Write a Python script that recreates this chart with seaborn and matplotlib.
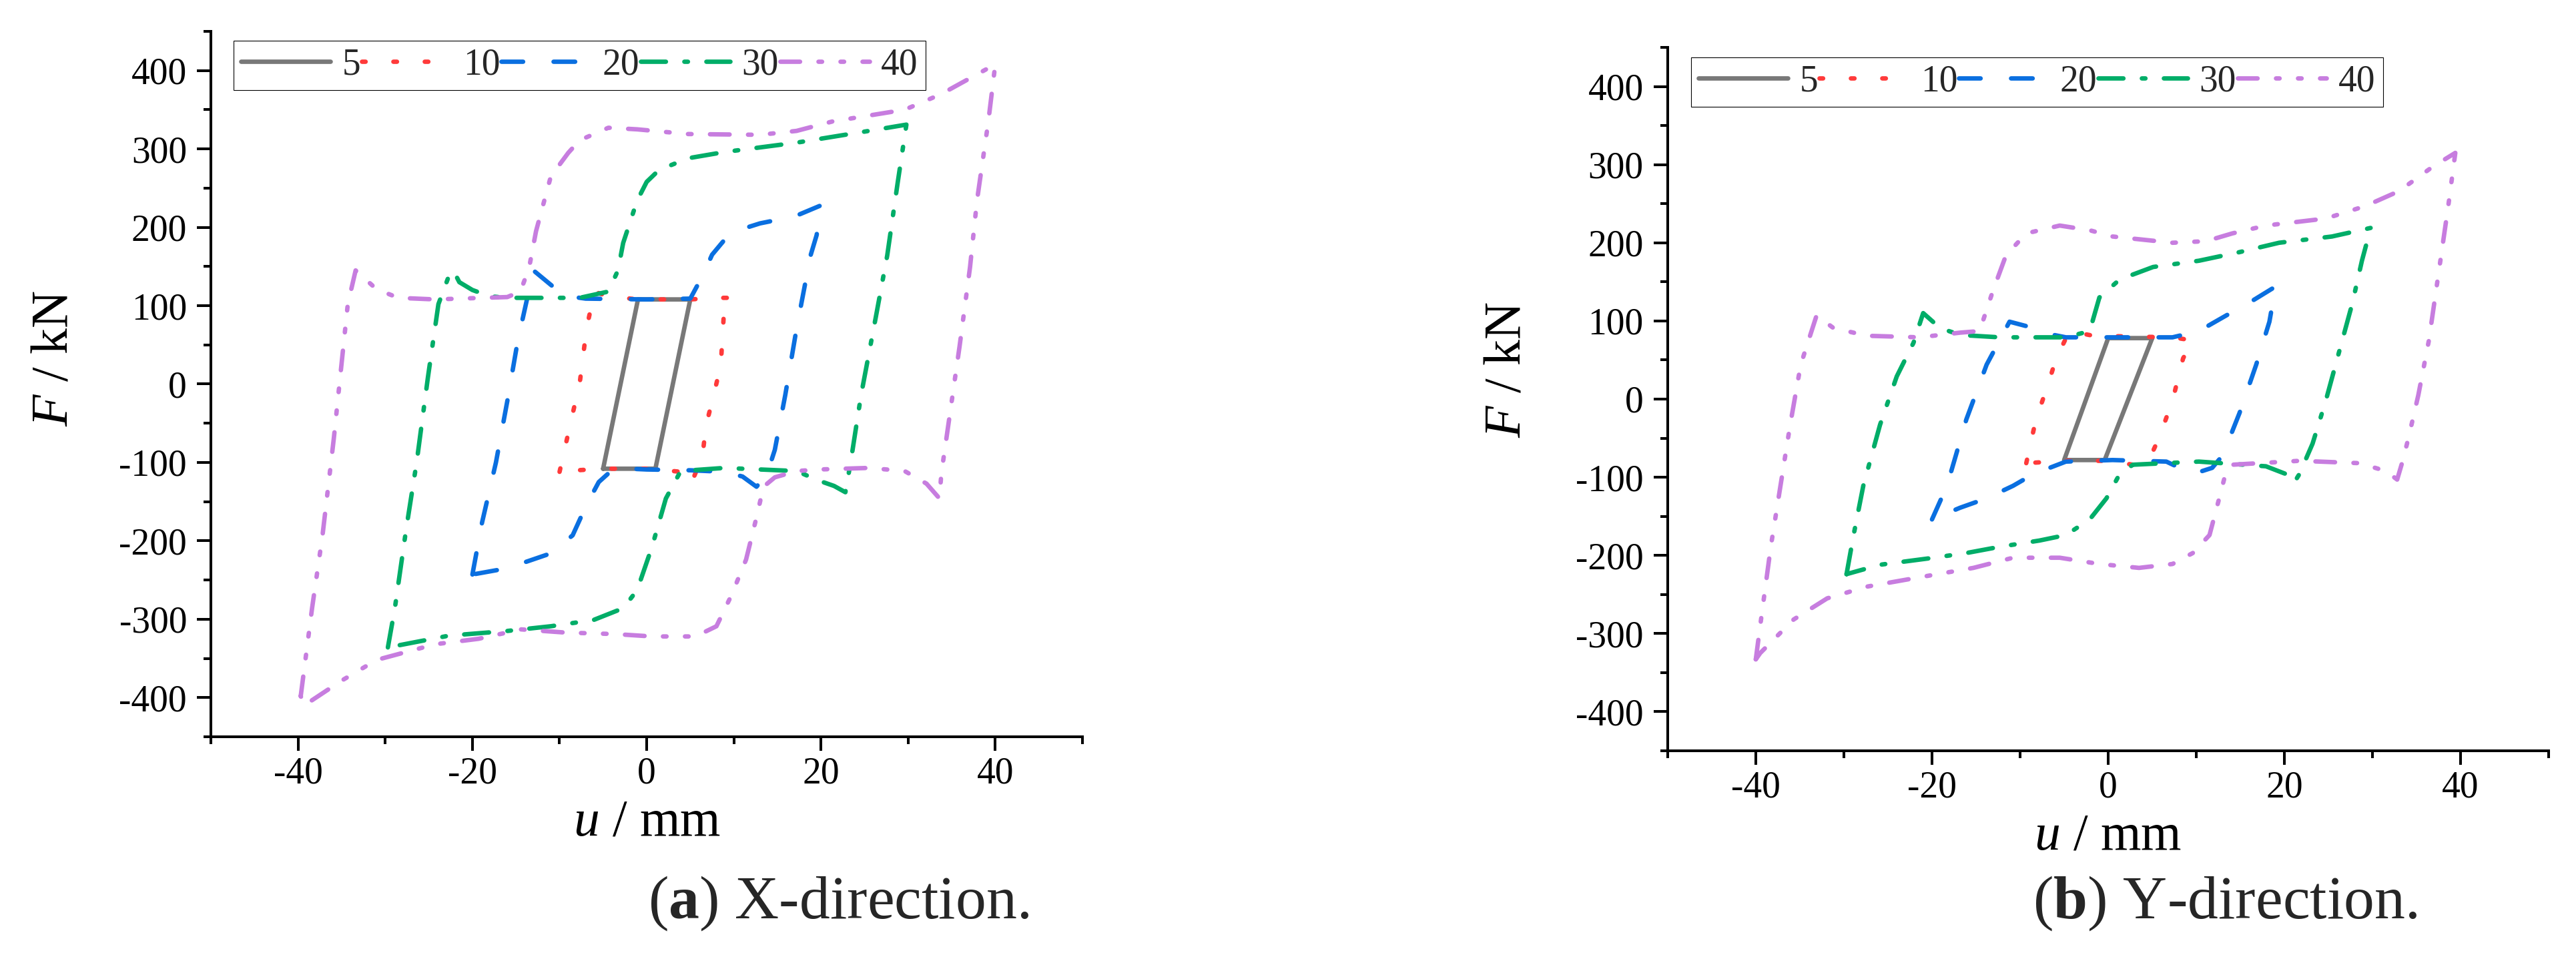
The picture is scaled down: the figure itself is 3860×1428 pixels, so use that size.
import numpy as np
import pandas as pd
import matplotlib
matplotlib.use("Agg")
import matplotlib.pyplot as plt
import seaborn as sns
from matplotlib.ticker import MultipleLocator

# ---------------- data ----------------
amplitudes = ["5", "10", "20", "30", "40"]

# X-direction hysteresis loops (u in mm, F in kN)
x5_u = [-5, -1, 5, 1, -5]
x5_F = [-108, 108, 108, -108, -108]

x10_u = [-10, -8.5, -7.7, -6.9, -6, -4.5, -1, 5, 8, 9.7, 8.9, 8.5, 7.6, 6.8, 6.4, 5.1, 4, 0, -5, -8, -10]
x10_F = [-112, -38, 0, 71, 118, 112, 108, 108, 110, 110, 98, 24, -18, -53, -92, -127, -112, -108, -108, -110, -112]

x20_u = [-20, -18.9, -17.3, -16, -14.8, -13, -10.5, -9, -7, 0, 5, 6.5, 7.5, 9, 11, 13, 17, 20,
         19.5, 18.8, 17.2, 15.9, 14.7, 13.8, 12.6, 11, 9, 5, 0, -2, -4, -5.5, -6.9, -8.5, -11, -16, -20]
x20_F = [-243, -177, -100, -22, 55, 145, 122, 112, 109, 108, 109, 140, 165, 185, 198, 205, 214, 228,
         190, 164, 71, -14, -84, -115, -131, -118, -112, -110, -109, -108, -110, -125, -154, -193, -216, -235, -243]

x30_u = [-29.7, -28.9, -27.6, -26.4, -25.1, -23.9, -22.8, -22.2, -21.5, -20, -18, -16, -7.7, -4.4, -3.3, -2.7, -1.1,
         0, 1.4, 4.7, 8.9, 17.2, 25.5, 29.8, 28.8, 27.6, 26.3, 24.6, 23.4, 22.8, 21.5, 19.7, 17.2, 8.9, 3.9,
         2.2, 0.6, -1.1, -2.7, -6.1, -11, -16, -22.7, -29.7]
x30_F = [-336, -286, -185, -100, 9, 102, 135, 145, 130, 120, 112, 110, 110, 118, 145, 180, 234,
         258, 273, 288, 296, 308, 323, 331, 257, 164, 86, -14, -100, -138, -130, -123, -111, -107, -111,
         -146, -208, -263, -286, -301, -309, -315, -321, -336]

x40_u = [-39.7, -38.4, -37.2, -35.9, -35.1, -34.3, -33.4, -31, -28.5, -24.3, -16, -14.5, -13.5, -12.7, -11, -9,
         -7.7, -4.4, -1.1, 4.7, 13, 17.2, 21.3, 29.6, 33.8, 40, 39.2, 37.9, 37.1, 35.9, 34.6, 33.8, 33.6,
         32.1, 29.6, 25.5, 19.7, 17.2, 14.7, 13.4, 12.6, 11.4, 9.7, 8, 5.6, 0.6, -3.6, -9.4, -14.4, -19.3,
         -24.3, -31, -35.1, -39.3, -39.7]
x40_F = [-398, -286, -193, -69, 17, 102, 145, 121, 110, 108, 111, 118, 148, 195, 265, 295,
         311, 327, 325, 319, 318, 323, 335, 350, 370, 408, 335, 234, 149, 48, -53, -115, -146,
         -127, -111, -107, -109, -111, -119, -131, -170, -224, -270, -309, -322, -322, -319, -317, -313, -325,
         -332, -352, -379, -410, -398]

# Y-direction hysteresis loops
y5_u = [5, -0.4, -5, 0, 5]
y5_F = [78, -78, -78, 78, 78]

y10_u = [-9.3, -8.2, -7, -5.9, -4.4, -1.7, 7.3, 9.6, 8.5, 7.3, 5.8, 4.7, 2.8, 0, -5, -9.3]
y10_F = [-82, -26, 13, 52, 87, 81, 79, 75, 52, -2, -49, -76, -84, -79, -79, -82]

y20_u = [-20, -18.3, -16.1, -13.8, -11.2, -8.5, -6.6, -4.8, 7.3, 10.3, 13.4, 16.4, 19,
         18.3, 16.8, 14.9, 13, 11.8, 9.6, 6.6, 0.5, -4.8, -8.5, -10.8, -13.8, -16.8, -20]
y20_F = [-154, -111, -26, 44, 99, 91, 83, 79, 79, 87, 107, 126, 144,
         99, 44, -18, -72, -88, -96, -80, -78, -80, -96, -111, -127, -139, -154]

y30_u = [-29.7, -28.9, -27.8, -25.9, -24, -22.1, -21, -19.1, -16.8, -12.3, -4.8, -2.1, -1, 1.3, 5.1, 10.3,
         14.9, 19.4, 25.4, 29.8, 28.8, 27.7, 26.2, 24.7, 23.2, 21.7, 21.1, 20.2, 17.9, 10.3, 2.8, 1.3,
         -0.2, -2.1, -4.8, -7.8, -12.3, -16.1, -19.8, -25.9, -29.7]
y30_F = [-224, -174, -111, -33, 29, 72, 110, 91, 82, 79, 79, 87, 130, 153, 169, 177,
         188, 200, 208, 219, 177, 122, 60, -2, -57, -96, -107, -96, -86, -80, -84, -96,
         -127, -154, -174, -181, -189, -197, -203, -212, -224]

y40_u = [-40, -39.5, -38.3, -37.2, -36.1, -34.9, -33.1, -31.2, -27.4, -21.4, -16.8, -14.6, -13.1, -11.6, -9.3,
         -5.5, -2.1, 0.5, 7.3, 11.1, 14.1, 17.9, 24.7, 29.2, 33, 36.8, 39.4, 38.6, 37.5, 36.4, 35.2, 34.1,
         33.4, 32.8, 31.5, 28.5, 21.7, 14.1, 13.4, 12.6, 11.5, 9.6, 7.3, 3.5, -1, -5.5, -10.8, -15.3, -21.4,
         -27.4, -31.9, -35.7, -39.5, -40]
y40_F = [-333, -290, -189, -111, -33, 44, 107, 91, 81, 79, 85, 87, 138, 184, 212,
         222, 216, 208, 200, 202, 212, 222, 231, 247, 266, 297, 315, 247, 161, 75, 5, -49,
         -80, -103, -92, -82, -79, -84, -92, -127, -174, -197, -211, -216, -211, -203, -203, -216, -228,
         -240, -255, -282, -325, -333]

x_loops = {"5": (x5_u, x5_F), "10": (x10_u, x10_F), "20": (x20_u, x20_F),
           "30": (x30_u, x30_F), "40": (x40_u, x40_F)}
y_loops = {"5": (y5_u, y5_F), "10": (y10_u, y10_F), "20": (y20_u, y20_F),
           "30": (y30_u, y30_F), "40": (y40_u, y40_F)}

x_ticks = [-40, -20, 0, 20, 40]
y_ticks = [-400, -300, -200, -100, 0, 100, 200, 300, 400]

# ---------------- style ----------------
colors = {"5": "#787878", "10": "#ff3a3a", "20": "#0a6fe0", "30": "#00ad68", "40": "#c77ddf"}
styles = {"5": "-",
          "10": (0, (0.8, 6.25)),
          "20": (0, (4.85, 6.85)),
          "30": (0, (5.6, 4.15, 0.8, 4.15)),
          "40": (0, (4.4, 4.15, 0.8, 4.15, 0.8, 4.15))}
LW = 4.8

sns.set_theme(style="ticks")
plt.rcParams["font.family"] = ["Liberation Serif", "DejaVu Serif"]
plt.rcParams["mathtext.fontset"] = "custom"
plt.rcParams["mathtext.rm"] = "Liberation Serif"
plt.rcParams["mathtext.it"] = "Liberation Serif:italic"
plt.rcParams["mathtext.bf"] = "Liberation Serif:bold"
plt.rcParams["axes.unicode_minus"] = False

fig = plt.figure(figsize=(38.6, 14.28), dpi=100)
fig.patch.set_facecolor("white")
ax1 = fig.add_axes([0.0819, 0.2269, 0.3383, 0.7402])
ax2 = fig.add_axes([0.6474, 0.2122, 0.3420, 0.7381])


def draw(ax, loops, leg_anchor, xlab_y, ylab_xy):
    frames = []
    for amp in amplitudes:
        u, F = loops[amp]
        frames.append(pd.DataFrame({"u": u, "F": F, "amp": amp, "i": np.arange(len(u))}))
    df = pd.concat(frames, ignore_index=True)
    for amp in amplitudes:
        sub = df[df["amp"] == amp]
        sns.lineplot(data=sub, x="u", y="F", sort=False, estimator=None, ax=ax,
                     color=colors[amp], linewidth=LW, linestyle=styles[amp],
                     dash_capstyle="round", solid_capstyle="round",
                     solid_joinstyle="round", dash_joinstyle="round",
                     label=amp, legend=False)
    ax.set_xlim(-50, 50)
    ax.set_ylim(-450, 450)
    ax.set_xticks(x_ticks)
    ax.set_yticks(y_ticks)
    ax.xaxis.set_minor_locator(MultipleLocator(10))
    ax.yaxis.set_minor_locator(MultipleLocator(50))
    ax.tick_params(which="both", direction="out", width=2.9, colors="black",
                   labelsize=40, left=True, bottom=True)
    ax.tick_params(which="major", length=15)
    ax.tick_params(which="minor", length=8)
    ax.tick_params(axis="y", pad=11)
    ax.tick_params(axis="x", pad=6)
    for s in ["top", "right"]:
        ax.spines[s].set_visible(False)
    for s in ["left", "bottom"]:
        ax.spines[s].set_linewidth(2.9)
        ax.spines[s].set_color("black")
    ax.set_facecolor("white")
    ax.grid(False)
    ax.set_xlabel(r"$u$ / mm", fontsize=56, color="black")
    ax.set_ylabel(r"$F$ / kN", fontsize=56, color="black")
    ax.xaxis.set_label_coords(0.5, xlab_y)
    ax.yaxis.set_label_coords(*ylab_xy)
    leg = ax.legend(loc="upper left", bbox_to_anchor=leg_anchor, ncol=5, fontsize=40,
                    handlelength=2.41, handletextpad=0.32, columnspacing=0.03,
                    borderpad=0.2, borderaxespad=0, frameon=True, fancybox=False,
                    framealpha=1, edgecolor="black")
    leg.get_frame().set_linewidth(0.8)


draw(ax1, x_loops, (0.026, 0.987), -0.088, (-0.152, 0.5364))
draw(ax2, y_loops, (0.0265, 0.986), -0.0883, (-0.155, 0.5417))

fig.text(0.3254, 0.0364, r"($\mathbf{a}$) X-direction.", ha="center", va="baseline", fontsize=66)
fig.text(0.8637, 0.0364, r"($\mathbf{b}$) Y-direction.", ha="center", va="baseline", fontsize=66)

fig.savefig("out.png", dpi=100, facecolor="white")
